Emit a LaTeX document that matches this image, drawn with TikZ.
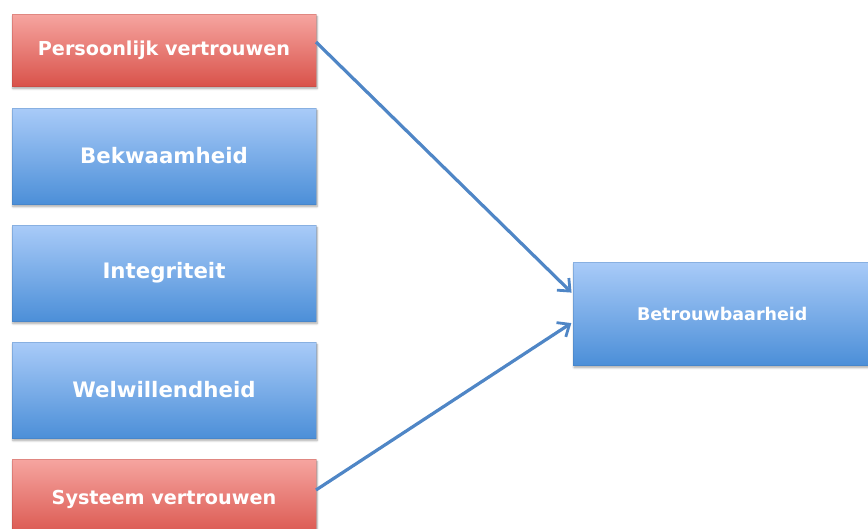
\documentclass[tikz,border=0pt]{standalone}
\usepackage{fontspec}
\setmainfont{DejaVu Sans}
\usetikzlibrary{arrows.meta,shadows.blur}
\definecolor{redtop}{HTML}{F6A5A0}
\definecolor{redbot}{HTML}{D9534B}
\definecolor{bluetop}{HTML}{A9CBF8}
\definecolor{bluebot}{HTML}{4C8FD8}
\definecolor{linkblue}{HTML}{4F86C6}
\tikzset{
  x=1pt, y=-1pt,
  card/.style={rectangle, minimum height=#1, text=white,
    blur shadow={shadow xshift=1pt, shadow yshift=-2.5pt, shadow blur steps=6, shadow opacity=35}},
  redcard/.style={card=72pt, minimum width=304pt, top color=redtop, bottom color=redbot, draw=redbot!80!black, draw opacity=0.3,
    font=\bfseries\fontsize{19.2}{22}\selectfont},
  bluecard/.style={card=96pt, minimum width=304pt, top color=bluetop, bottom color=bluebot, draw=bluebot!80!black, draw opacity=0.3,
    font=\bfseries\fontsize{21.3}{24}\selectfont},
  link/.style={draw=linkblue, line width=3.2pt, -{Straight Barb[length=10pt, width=17pt, line width=2.8pt]}, shorten >=2pt}
}
\begin{document}
\begin{tikzpicture}
\useasboundingbox (0,0) rectangle (868,528);
\begin{scope}
\clip (0,0) rectangle (868,528);
\node[redcard] (pv) at (164,50) {Persoonlijk vertrouwen};
\node[bluecard] (bek) at (164,156) {Bekwaamheid};
\node[bluecard] (int) at (164,273) {Integriteit};
\node[bluecard] (wel) at (164,390) {Welwillendheid};
\node[redcard, minimum height=80pt] (sv) at (164,499) {Systeem vertrouwen};
\node[bluecard, minimum width=320pt, minimum height=103pt, text width=300pt, align=left,
  font=\bfseries\fontsize{17.5}{20}\selectfont] (bet) at (733,313.5) {\hspace*{54pt}Betrouwbaarheid};
\coordinate (pvout) at (316,42);
\coordinate (svout) at (316,490);
\coordinate (in1) at (573,294);
\coordinate (in2) at (573,322);
\draw[link] (pvout) -- (in1);
\draw[link] (svout) -- (in2);
\end{scope}
\end{tikzpicture}
\end{document}
